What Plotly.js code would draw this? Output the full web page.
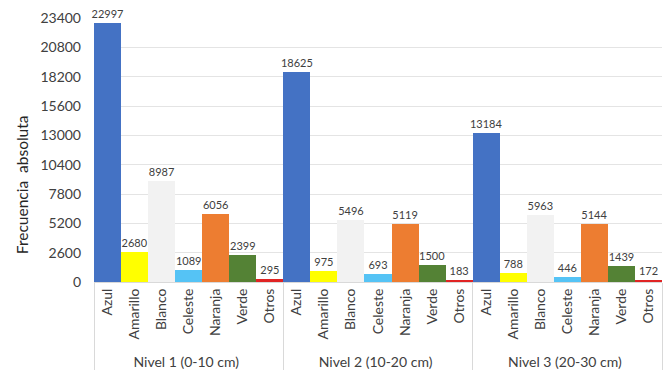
<!DOCTYPE html>
<html>
<head>
<meta charset="utf-8">
<script src="https://cdn.plot.ly/plotly-3.0.1.min.js"></script>
<style>
  html, body { margin: 0; padding: 0; background: #ffffff; }
  #chart { width: 665px; height: 375px; }
</style>
</head>
<body>
<div id="chart"></div>
<script>
// Capas de profundidad y colores de los residuos contados
const niveles = ["Nivel 1 (0-10 cm)", "Nivel 2 (10-20 cm)", "Nivel 3 (20-30 cm)"];
const colores = ["Azul", "Amarillo", "Blanco", "Celeste", "Naranja", "Verde", "Otros"];
const relleno = ["#4472C4", "#FFFF00", "#F2F2F2", "#55C3F5", "#ED7D31", "#548235", "#E02424"];

// Frecuencia absoluta por nivel (mismo orden que "colores")
const nivel1 = [22997, 2680, 8987, 1089, 6056, 2399, 295];
const nivel2 = [18625, 975, 5496, 693, 5119, 1500, 183];
const nivel3 = [13184, 788, 5963, 446, 5144, 1439, 172];

const yTicks = [0, 2600, 5200, 7800, 10400, 13000, 15600, 18200, 20800, 23400];
const yTitulo = "Frecuencia  absoluta";

const series = [nivel1, nivel2, nivel3];
const xOuter = [], xInner = [], yVals = [], barColors = [];
series.forEach((vals, i) => {
  vals.forEach((v, j) => {
    xOuter.push(niveles[i]);
    xInner.push(colores[j]);
    yVals.push(v);
    barColors.push(relleno[j]);
  });
});

const trace = {
  type: "bar",
  x: [xOuter, xInner],
  y: yVals,
  marker: { color: barColors, line: { width: 0 } },
  text: yVals.map(String),
  textposition: "outside",
  constraintext: "none",
  textfont: { family: "Lato, 'Open Sans', sans-serif", size: 11, color: "#404040" },
  cliponaxis: false,
  hoverinfo: "skip"
};

const layout = {
  width: 665,
  height: 375,
  margin: { l: 94, r: 3, t: 18, b: 93 },
  paper_bgcolor: "#ffffff",
  plot_bgcolor: "#ffffff",
  bargap: 0,
  showlegend: false,
  font: { family: "Lato, 'Open Sans', sans-serif", color: "#404040", size: 14 },
  xaxis: {
    type: "multicategory",
    tickangle: -90,
    tickfont: { size: 14, color: "#404040" },
    showline: true,
    linecolor: "#d9d9d9",
    linewidth: 1,
    showdividers: true,
    dividercolor: "#d9d9d9",
    dividerwidth: 1,
    ticks: "",
    showgrid: false
  },
  yaxis: {
    range: [0, 23400],
    tickvals: yTicks,
    ticktext: yTicks.map(String),
    tickfont: { size: 14, color: "#404040" },
    ticklabelstandoff: 12,
    showgrid: true,
    gridcolor: "#e4e4e4",
    gridwidth: 1,
    zeroline: false,
    showline: false,
    ticks: "",
    ticklen: 0
  },
  // Título del eje Y, algo por debajo del centro del área de trazado
  annotations: [{
    text: yTitulo,
    textangle: -90,
    xref: "paper", yref: "paper",
    x: -0.127, y: 0.37,
    xanchor: "center", yanchor: "middle",
    showarrow: false,
    font: { size: 15.5, color: "#262626" }
  }]
};

Plotly.newPlot("chart", [trace], layout, { staticPlot: true, displayModeBar: false });
</script>
</body>
</html>
